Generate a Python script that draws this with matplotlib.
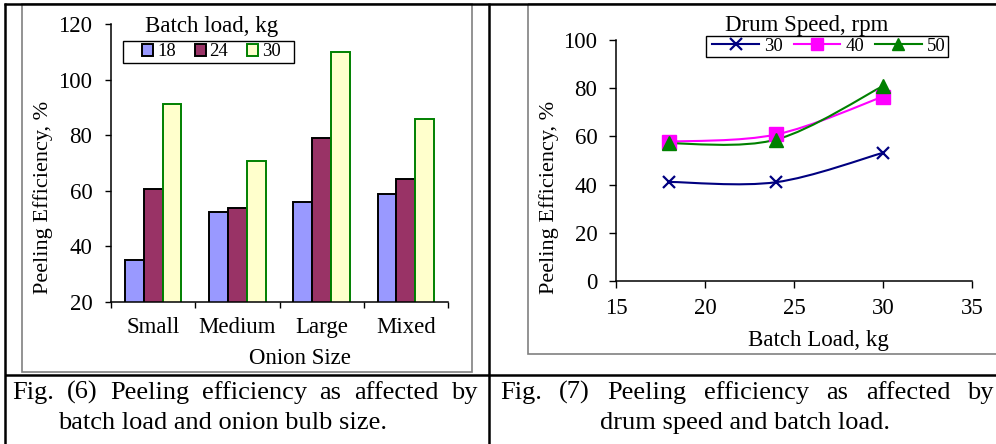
import numpy as np
import matplotlib.pyplot as plt
from matplotlib.path import Path
from matplotlib.patches import PathPatch, Rectangle
from matplotlib.lines import Line2D

plt.rcParams['font.family'] = ['Liberation Serif', 'DejaVu Serif']

# canvas size in pixels
W, H = 996, 444

# Fig. (6): peeling efficiency by onion size and batch load
sizes = ["Small", "Medium", "Large", "Mixed"]
loads = ["18", "24", "30"]
eff_18 = [35.0, 52.2, 55.8, 58.8]
eff_24 = [60.6, 53.7, 79.0, 64.1]
eff_30 = [91.3, 70.6, 110.1, 85.7]

# Fig. (7): peeling efficiency by batch load and drum speed
batch_load = [18, 24, 30]
speeds = ["30", "40", "50"]
rpm_30 = [41.1, 41.0, 53.2]
rpm_40 = [57.8, 60.8, 76.5]
rpm_50 = [57.1, 58.7, 80.9]

fig = plt.figure(figsize=(W / 100, H / 100), dpi=100)


def box(x0, y0, x1, y1):
    # pixel box (top-left origin) -> figure fraction rect
    return [x0 / W, 1 - y1 / H, (x1 - x0) / W, (y1 - y0) / H]


# overlay axes in pixel coordinates for frames, labels and captions
bg = fig.add_axes([0, 0, 1, 1])
bg.set_xlim(0, W)
bg.set_ylim(H, 0)
bg.axis('off')
bg.set_zorder(5)
bg.patch.set_visible(False)

# ---------------- left chart: grouped bars ----------------
ax1 = fig.add_axes(box(111, 24, 448, 302))
ax1.patch.set_visible(False)
x = np.arange(len(sizes))
w = 0.2235
bar_styles = [("#9999FF", "black"), ("#993366", "black"), ("#FFFFCC", "#008000")]
for i, vals in enumerate([eff_18, eff_24, eff_30]):
    fc, ec = bar_styles[i]
    ax1.bar(x + (i - 1) * w, vals, width=w, color=fc, edgecolor=ec,
            linewidth=1.4, label=loads[i])

ax1.set_xlim(-0.5, 3.5)
ax1.set_ylim(20, 120)
ax1.set_yticks(range(20, 121, 20))
ax1.set_xticks(np.arange(-0.5, 4, 1))
ax1.set_xticklabels([])
ax1.set_xticks(x, sizes, minor=True)
ax1.tick_params(axis='x', which='minor', length=0, pad=11, labelsize=16.5)
ax1.tick_params(axis='x', which='major', length=4.5, width=1)
ax1.tick_params(axis='y', length=4.5, width=1, pad=9, labelsize=16.5)
for s in ['top', 'right']:
    ax1.spines[s].set_visible(False)
for s in ['left', 'bottom']:
    ax1.spines[s].set_linewidth(1.1)

ax1.legend(ncol=3, frameon=False, loc='center', fontsize=13.5,
           bbox_to_anchor=(211.5, 52), bbox_transform=bg.transData,
           handlelength=0.6, handleheight=0.6, handletextpad=0.2,
           columnspacing=1.0, borderpad=0, borderaxespad=0)
bg.add_patch(Rectangle((123, 41), 171, 22, fill=False, ec='black', lw=1.0))
bg.text(212, 32, "Batch load, kg", fontsize=16.5, ha='center', va='baseline')
bg.text(43, 197, "Peeling Efficiency, %", fontsize=16, rotation=90,
        ha='center', va='center')
bg.text(300, 364, "Onion Size", fontsize=16.5, ha='center', va='baseline')


# ---------------- right chart: smoothed lines ----------------
def smooth_path(xs, ys):
    # Excel-style smoothed line: Bezier segments through the points
    pts = np.column_stack([xs, ys]).astype(float)
    n = len(pts)
    verts = [pts[0]]
    codes = [Path.MOVETO]
    for i in range(n - 1):
        p0 = pts[max(i - 1, 0)]
        p1 = pts[i]
        p2 = pts[i + 1]
        p3 = pts[min(i + 2, n - 1)]
        verts += [p1 + (p2 - p0) / 6, p2 - (p3 - p1) / 6, p2]
        codes += [Path.CURVE4] * 3
    return Path(verts, codes)


ax2 = fig.add_axes(box(616, 40, 972, 281))
ax2.patch.set_visible(False)
line_styles = [("#000080", "x", 9, 1.6), ("#FF00FF", "s", 9.5, 1.0), ("#008000", "^", 10, 1.0)]
handles = []
for vals, lab, (col, mk, ms, mew) in zip([rpm_30, rpm_40, rpm_50], speeds, line_styles):
    ax2.add_patch(PathPatch(smooth_path(batch_load, vals), fill=False, ec=col, lw=1.5))
    ax2.plot(batch_load, vals, ls='none', marker=mk, ms=ms, color=col, mew=mew)
    handles.append(Line2D([], [], color=col, lw=1.5, marker=mk, ms=ms - 1, mew=mew))

ax2.set_xlim(15, 35)
ax2.set_ylim(0, 100)
ax2.set_xticks(range(15, 36, 5))
ax2.set_yticks(range(0, 101, 20))
ax2.tick_params(axis='x', length=5, width=1, pad=7, labelsize=16.5)
ax2.tick_params(axis='y', length=5, width=1, pad=8.5, labelsize=16.5)
for s in ['top', 'right']:
    ax2.spines[s].set_visible(False)
for s in ['left', 'bottom']:
    ax2.spines[s].set_linewidth(1.1)

ax2.legend(handles, speeds, ncol=3, frameon=False, loc='center', fontsize=13.5,
           bbox_to_anchor=(829, 46.5), bbox_transform=bg.transData,
           handlelength=2.5, handletextpad=0.28, columnspacing=0.55,
           borderpad=0, borderaxespad=0)
bg.add_patch(Rectangle((706, 36), 242, 21, fill=False, ec='black', lw=1.0))
bg.text(807, 31, "Drum Speed, rpm", fontsize=16.5, ha='center', va='baseline')
bg.text(549, 197, "Peeling Efficiency, %", fontsize=16, rotation=90,
        ha='center', va='center')
bg.text(818, 346, "Batch Load, kg", fontsize=16.5, ha='center', va='baseline')

# ---------------- table frame ----------------
bg.add_patch(Rectangle((22, 4), 450, 368, fill=False, ec='#808080', lw=1.2))
bg.add_patch(Rectangle((528, 4), 500, 350, fill=False, ec='#808080', lw=1.2))
bg.plot([4, W], [4, 4], color='black', lw=1.8, solid_capstyle='butt')
bg.plot([5, 5], [3, H], color='black', lw=1.8, solid_capstyle='butt')
bg.plot([489, 489], [3, H], color='black', lw=1.8, solid_capstyle='butt')
bg.plot([5, W], [375, 375], color='black', lw=1.8, solid_capstyle='butt')

# ---------------- captions ----------------
cap_fs = 19
renderer = fig.canvas.get_renderer()


def justified(text, x0, x1, y):
    words = text.split()
    objs = [bg.text(0, y, wd, fontsize=cap_fs, va='baseline') for wd in words]
    widths = [o.get_window_extent(renderer).width for o in objs]
    gap = (x1 - x0 - sum(widths)) / (len(words) - 1)
    pos = x0
    for o, wd in zip(objs, widths):
        o.set_x(pos)
        pos += wd + gap


justified("Fig. (6) Peeling efficiency as affected by", 12, 478, 399)
bg.text(223, 429, "batch load and onion bulb size.", fontsize=cap_fs,
        ha='center', va='baseline')
justified("Fig. (7) Peeling efficiency as affected by", 500, 994, 399)
bg.text(745, 429, "drum speed and batch load.", fontsize=cap_fs,
        ha='center', va='baseline')

fig.savefig("out.png", dpi=100)
